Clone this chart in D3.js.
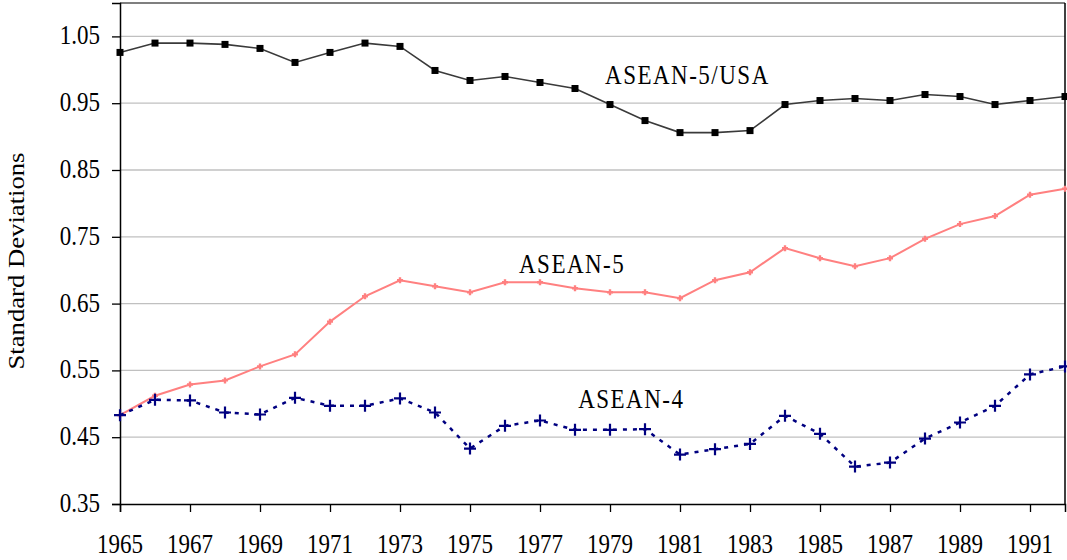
<!DOCTYPE html>
<html><head><meta charset="utf-8">
<script src="https://cdn.jsdelivr.net/npm/d3@7"></script>
<style>body{margin:0;background:#fff}svg{display:block}text{font-family:"Liberation Serif","Times New Roman",serif;fill:#000}</style>
</head><body>
<svg id="c" width="1067" height="560"></svg>
<script>
const years = d3.range(1965, 1993);
const usa = [1.026,1.040,1.040,1.038,1.032,1.011,1.026,1.040,1.035,0.999,0.984,0.990,0.981,0.972,0.948,0.924,0.906,0.906,0.909,0.948,0.954,0.957,0.954,0.963,0.960,0.948,0.954,0.960];
const asean5 = [0.483,0.512,0.529,0.535,0.556,0.574,0.623,0.661,0.685,0.676,0.667,0.682,0.682,0.673,0.667,0.667,0.658,0.685,0.697,0.733,0.718,0.706,0.718,0.747,0.769,0.781,0.813,0.822];
const asean4 = [0.483,0.506,0.505,0.487,0.484,0.509,0.497,0.497,0.508,0.487,0.433,0.467,0.475,0.461,0.461,0.462,0.424,0.432,0.440,0.482,0.455,0.406,0.412,0.448,0.472,0.497,0.544,0.556];
const yTicks = [0.35,0.45,0.55,0.65,0.75,0.85,0.95,1.05];
const xTicks = d3.range(1965, 1992, 2);
const labels = [{t:"ASEAN-5/USA", x:1978.86, y:0.978},{t:"ASEAN-5", x:1976.4, y:0.696},{t:"ASEAN-4", x:1978.09, y:0.494}];

const svg = d3.select("#c");
const L=120, R=1065, T=3, B=504;
const SY = 1.16;
const x = d3.scaleLinear().domain([1965,1992]).range([L,R]);
const y = d3.scaleLinear().domain([0.35,1.10]).range([B,T]);

// gridlines
svg.append("g").selectAll("line").data(yTicks.filter(v=>v>0.36)).join("line")
  .attr("x1",L).attr("x2",R).attr("y1",d=>y(d)).attr("y2",d=>y(d))
  .attr("stroke","#c0c0c0").attr("stroke-width",1.3);
// top & right border
svg.append("line").attr("x1",L).attr("x2",R).attr("y1",y(1.10)).attr("y2",y(1.10)).attr("stroke","#555").attr("stroke-width",1.3);
svg.append("line").attr("x1",R).attr("x2",R).attr("y1",y(1.10)).attr("y2",B).attr("stroke","#000").attr("stroke-width",1.5);

const yAxis = svg.append("g").attr("transform",`translate(${L},0)`)
  .call(d3.axisLeft(y).tickValues(yTicks).tickFormat("").tickSize(8));
const xAxis = svg.append("g").attr("transform",`translate(0,${B})`)
  .call(d3.axisBottom(x).tickValues(xTicks).tickFormat("").tickSize(8));
[yAxis,xAxis].forEach(a=>{
  a.select(".domain").attr("stroke","#000").attr("stroke-width",1.5);
  a.selectAll(".tick line").attr("stroke","#000").attr("stroke-width",1.3);
});
// tick labels (vertically stretched like the reference)
svg.append("g").selectAll("text").data(yTicks).join("text")
  .attr("transform",d=>`translate(100,${y(d)+8}) scale(1,${SY})`)
  .attr("text-anchor","end").style("font-size","23px").text(d3.format(".2f"));
svg.append("g").selectAll("text").data(xTicks).join("text")
  .attr("transform",d=>`translate(${x(d)},${B+49}) scale(1,${SY})`)
  .attr("text-anchor","middle").style("font-size","23px").text(d3.format("d"));

const line = d3.line().x((d,i)=>x(years[i])).y(d=>y(d));

// ASEAN-5/USA
svg.append("path").datum(usa).attr("d",line).attr("fill","none").attr("stroke","#3a3a3a").attr("stroke-width",1.6);
svg.append("g").selectAll("rect").data(usa).join("rect")
  .attr("x",(d,i)=>x(years[i])-3.5).attr("y",d=>y(d)-3.5).attr("width",7).attr("height",7).attr("fill","#000");

// ASEAN-5
svg.append("path").datum(asean5).attr("d",line).attr("fill","none").attr("stroke","#ff8080").attr("stroke-width",2);
svg.append("g").selectAll("path").data(asean5).join("path")
  .attr("d",(d,i)=>{const cx=x(years[i]),cy=y(d);return `M${cx-3},${cy}L${cx+3},${cy}M${cx},${cy-3}L${cx},${cy+3}`;})
  .attr("stroke","#ff8080").attr("stroke-width",2.4);

// ASEAN-4
svg.append("path").datum(asean4).attr("d",line).attr("fill","none").attr("stroke","#000080").attr("stroke-width",2.5).attr("stroke-dasharray","4,6");
svg.append("g").selectAll("path").data(asean4).join("path")
  .attr("d",(d,i)=>{const cx=x(years[i]),cy=y(d);return `M${cx-6},${cy}L${cx+6},${cy}M${cx},${cy-6}L${cx},${cy+6}`;})
  .attr("stroke","#000080").attr("stroke-width",2.2);

// series labels
svg.append("g").selectAll("text").data(labels).join("text")
  .attr("transform",d=>`translate(${x(d.x)},${y(d.y)}) scale(1,${SY})`).text(d=>d.t)
  .style("font-size","23px").style("letter-spacing","1.5px");

// y title
svg.append("text").attr("transform",`translate(24,261) rotate(-90) scale(${SY},1)`).attr("text-anchor","middle")
  .style("font-size","23px").text("Standard Deviations");
</script>
</body></html>
